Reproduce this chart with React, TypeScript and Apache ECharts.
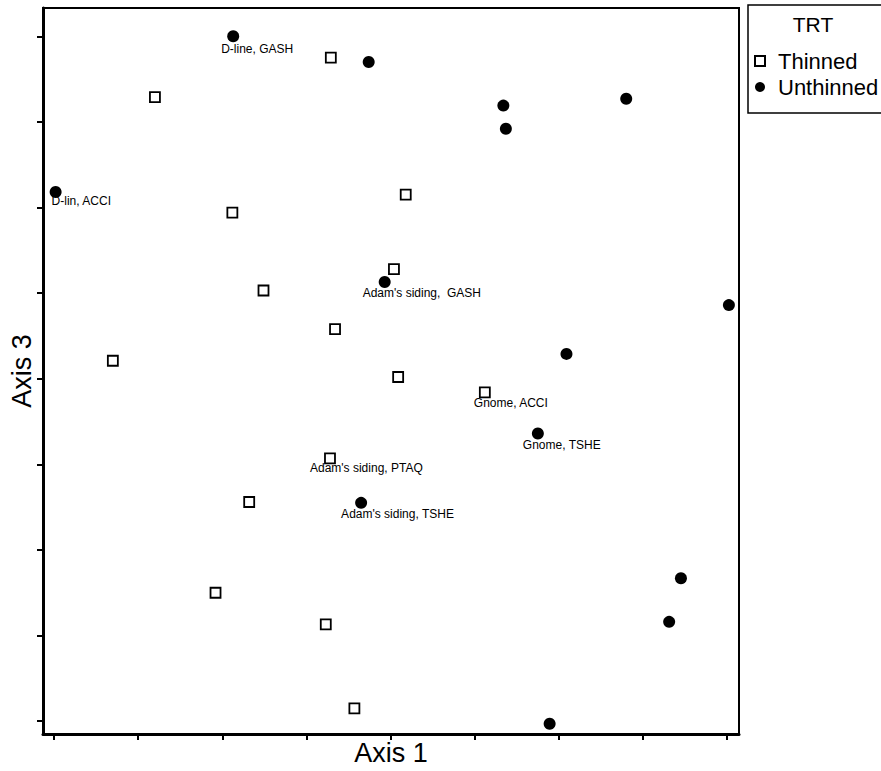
import React, { useEffect, useRef } from "react";
import * as echarts from "echarts";

// Axis 1 / Axis 3 scores (tick units)
const thinnedX = [3.29, 1.2, 4.18, 2.12, 4.04, 2.49, 3.34, 0.7, 4.09, 5.12, 3.28, 2.32, 1.92, 3.23, 3.57];
const thinnedY = [7.75, 7.29, 6.15, 5.94, 5.28, 5.03, 4.58, 4.21, 4.02, 3.84, 3.07, 2.56, 1.5, 1.13, 0.15];
const thinnedLabels = ["", "", "", "", "", "", "", "", "", "Gnome, ACCI", "Adam's siding, PTAQ", "", "", "", ""];

const unthinnedX = [2.13, 3.74, 5.34, 5.37, 6.8, 0.02, 3.93, 8.02, 6.09, 5.75, 3.65, 7.45, 7.31, 5.89];
const unthinnedY = [8.0, 7.7, 7.19, 6.92, 7.27, 6.18, 5.13, 4.86, 4.29, 3.36, 2.55, 1.67, 1.16, -0.03];
const unthinnedLabels = ["D-line, GASH", "", "", "", "", "D-lin, ACCI", "Adam's siding,  GASH", "", "", "Gnome, TSHE", "Adam's siding, TSHE", "", "", ""];

const tickValues = [0, 1, 2, 3, 4, 5, 6, 7, 8];
const groups = ["Thinned", "Unthinned"];
const legendTitle = "TRT";
const xName = "Axis 1";
const yName = "Axis 3";

// label placement (styling)
const labelOffsets: Record<string, [number, number]> = {
  "D-line, GASH": [-12, 13],
  "D-lin, ACCI": [-4, 9],
  "Adam's siding,  GASH": [-22, 11],
  "Gnome, ACCI": [-11, 11],
  "Gnome, TSHE": [-15, 12],
  "Adam's siding, PTAQ": [-20, 10],
  "Adam's siding, TSHE": [-20, 11],
};

const FONT = "Liberation Sans, Arial, sans-serif";

function buildData(xs: number[], ys: number[], labels: string[]) {
  return xs.map((x, i) => {
    const lab = labels[i];
    const item: any = { value: [x, ys[i]] };
    if (lab) {
      const off = labelOffsets[lab] || [-12, 11];
      item.label = {
        show: true,
        formatter: lab,
        position: "inside",
        align: "left",
        verticalAlign: "middle",
        offset: off,
        fontSize: 12,
        fontFamily: FONT,
        color: "#000",
      };
    }
    return item;
  });
}

export default function App() {
  const ref = useRef<HTMLDivElement>(null);
  useEffect(() => {
    if (!ref.current) return;
    const chart = echarts.init(ref.current, undefined, { renderer: "svg" });
    chart.setOption({
      animation: false,
      backgroundColor: "#fff",
      grid: {
        left: 41,
        right: 142,
        top: 8,
        bottom: 30,
        show: true,
        borderColor: "#000",
        borderWidth: 2,
        backgroundColor: "transparent",
      },
      xAxis: {
        type: "value",
        min: -0.13,
        max: 8.14,
        name: xName,
        nameLocation: "middle",
        nameGap: 5,
        nameTextStyle: { fontSize: 27, fontFamily: FONT, color: "#000", verticalAlign: "top" },
        axisLine: { show: true, onZero: false, lineStyle: { color: "#000", width: 3 } },
        axisTick: { show: true, customValues: tickValues, length: 6, lineStyle: { color: "#000", width: 2 } },
        axisLabel: { show: false },
        splitLine: { show: false },
      },
      yAxis: {
        type: "value",
        min: -0.15,
        max: 8.33,
        name: yName,
        nameLocation: "middle",
        nameGap: 8,
        nameRotate: 90,
        nameTextStyle: { fontSize: 27, fontFamily: FONT, color: "#000", verticalAlign: "bottom" },
        axisLine: { show: true, onZero: false, lineStyle: { color: "#000", width: 3 } },
        axisTick: { show: true, customValues: tickValues, length: 6, lineStyle: { color: "#000", width: 2 } },
        axisLabel: { show: false },
        splitLine: { show: false },
      },
      legend: {
        data: groups,
        orient: "vertical",
        left: 749,
        top: 45,
        itemWidth: 10,
        itemHeight: 10,
        itemGap: 4,
        selectedMode: false,
        textStyle: { fontSize: 22, fontFamily: FONT, color: "#000", padding: [0, 0, 0, 8] },
      },
      graphic: [
        {
          type: "rect",
          shape: { x: 748, y: 5, width: 140, height: 108 },
          style: { fill: "none", stroke: "#000", lineWidth: 1.5 },
          silent: true,
        },
        {
          type: "text",
          x: 813,
          y: 24,
          style: {
            text: legendTitle,
            fontSize: 21,
            fontFamily: FONT,
            fill: "#000",
            align: "center",
            verticalAlign: "middle",
          },
          silent: true,
        },
      ],
      series: [
        {
          name: groups[0],
          type: "scatter",
          symbol: "rect",
          symbolSize: 10,
          itemStyle: { color: "#fff", borderColor: "#000", borderWidth: 1.8, opacity: 1 },
          data: buildData(thinnedX, thinnedY, thinnedLabels),
          z: 3,
        },
        {
          name: groups[1],
          type: "scatter",
          symbol: "circle",
          symbolSize: 12,
          itemStyle: { color: "#000", opacity: 1 },
          data: buildData(unthinnedX, unthinnedY, unthinnedLabels),
          z: 4,
        },
      ],
    });
    return () => chart.dispose();
  }, []);
  return (
    <div
      ref={ref}
      style={{ position: "fixed", left: 0, top: 0, width: 881, height: 771, background: "#fff" }}
    />
  );
}
